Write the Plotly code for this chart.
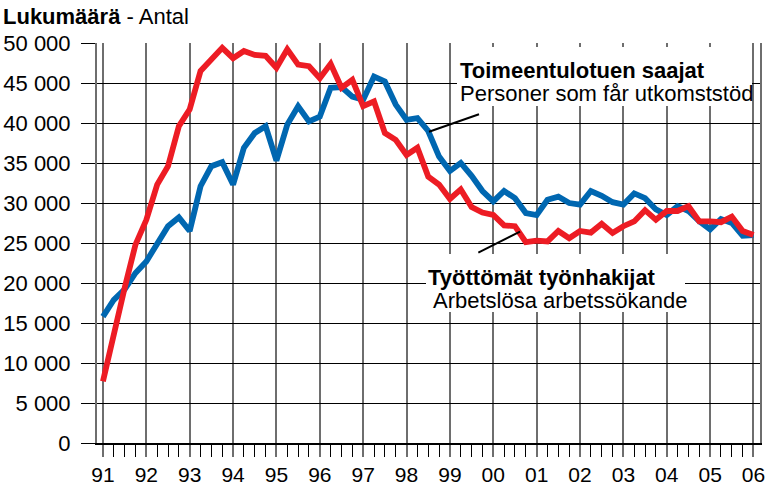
import plotly.graph_objects as go

# Quarterly data, 1991Q1 .. 2006Q1 (quarter index 0..60)
quarter_index = list(range(61))
year_labels = ['91', '92', '93', '94', '95', '96', '97', '98', '99',
               '00', '01', '02', '03', '04', '05', '06']
year_tick_positions = [4 * i for i in range(len(year_labels))]

unemployed = [  # Työttömät työnhakijat / Arbetslösa arbetssökande
    7700, 13750, 19400, 24800, 27900, 32300, 34600, 39600,
    41700, 46500, 47900, 49400, 48100, 49000, 48500, 48400,
    46900, 49200, 47300, 47100, 45600, 47400, 44400, 45400,
    42100, 42700, 38750, 37900, 36000, 36900, 33300, 32300,
    30500, 31700, 29500, 28800, 28500, 27200, 27100, 25100,
    25300, 25200, 26500, 25600, 26500, 26300, 27400, 26250,
    27100, 27700, 29100, 27900, 29000, 29000, 29600, 27700,
    27700, 27600, 28300, 26500, 26000]

social_assistance = [  # Toimeentulotuen saajat / Personer som får utkomststöd
    15800, 17900, 19200, 21250, 22700, 24800, 27100, 28200,
    26500, 32100, 34600, 35100, 32300, 36900, 38750, 39600,
    35300, 39800, 42100, 40200, 40800, 44400, 44500, 43300,
    42900, 45800, 45200, 42300, 40400, 40600, 39000, 35800,
    34000, 35000, 33400, 31500, 30200, 31500, 30600, 28750,
    28500, 30400, 30800, 30000, 29800, 31500, 30900, 30100,
    29800, 31200, 30600, 29200, 28500, 29600, 29000, 27700,
    26700, 28000, 27500, 25900, 26000]

y_tick_values = [0, 5000, 10000, 15000, 20000, 25000, 30000, 35000, 40000, 45000, 50000]
y_tick_labels = ['0', '5 000', '10 000', '15 000', '20 000', '25 000',
                 '30 000', '35 000', '40 000', '45 000', '50 000']

W, H = 767, 487
L, R, T, B = 97, 7, 43, 44
PW, PH = W - L - R, H - T - B


def px(xp):
    return (xp - L) / PW


def py(yp):
    return (H - B - yp) / PH


FONT = 'Arial, Liberation Sans, sans-serif'
FS = 22
RED = '#ED1C24'
BLUE = '#0067B1'
GRAY = '#6e6e6e'

fig = go.Figure()
fig.add_trace(go.Scatter(x=quarter_index, y=social_assistance, mode='lines',
                         line=dict(color=BLUE, width=5.8), showlegend=False))
fig.add_trace(go.Scatter(x=quarter_index, y=unemployed, mode='lines',
                         line=dict(color=RED, width=5.8), showlegend=False))

shapes = [
    # pointer lines
    dict(type='line', xref='paper', yref='paper', x0=px(429), y0=py(131.7), x1=px(479), y1=py(114.3),
         line=dict(color='black', width=2), layer='above'),
    dict(type='line', xref='paper', yref='paper', x0=px(478.3), y0=py(252.7), x1=px(520), y1=py(231.7),
         line=dict(color='black', width=2), layer='above'),
]


def box(x0, x1, y0, y1):
    return dict(text=' ', x=px((x0 + x1) / 2), y=py((y0 + y1) / 2), xref='paper', yref='paper',
                xanchor='center', yanchor='middle', showarrow=False,
                width=x1 - x0, height=y1 - y0, bgcolor='white', borderpad=0, borderwidth=0)


def label(text, x, y):
    return dict(text=text, x=px(x), y=py(y), xref='paper', yref='paper',
                xanchor='left', yanchor='middle', showarrow=False,
                font=dict(size=FS, color='black', family=FONT))


annotations = [
    box(457, 752, 47, 106),
    box(426, 685, 254, 312),
    label('<b>Lukumäärä</b> - Antal', 1, 16),
    label('<b>Toimeentulotuen saajat</b>', 458, 71),
    label('Personer som får utkomststöd', 458, 94),
    label('<b>Työttömät työnhakijat</b>', 426, 277),
    label('Arbetslösa arbetssökande', 431, 300),
]

fig.update_layout(
    width=W, height=H,
    margin=dict(l=L, r=R, t=T, b=B, pad=0),
    paper_bgcolor='white', plot_bgcolor='white',
    font=dict(family=FONT, size=FS, color='black'),
    shapes=shapes, annotations=annotations,
    xaxis=dict(
        range=[-0.55, 60.6], tickmode='array', tickvals=year_tick_positions, ticktext=year_labels,
        showgrid=True, gridcolor=GRAY, gridwidth=1.5,
        ticks='outside', ticklen=12, tickcolor=GRAY, tickwidth=1.5,
        minor=dict(tickmode='linear', tick0=0, dtick=1, ticks='outside', ticklen=12,
                   tickcolor='black', tickwidth=1, showgrid=False),
        showline=True, linecolor='black', linewidth=2, zeroline=False,
        tickfont=dict(size=21, color='black', family=FONT),
        ticklabelstandoff=0, automargin=False,
    ),
    yaxis=dict(
        range=[0, 50000], tickmode='array', tickvals=y_tick_values, ticktext=y_tick_labels,
        showgrid=True, gridcolor='black', gridwidth=1,
        ticks='outside', ticklen=14, tickcolor='black', tickwidth=1,
        showline=True, linecolor=GRAY, linewidth=2, mirror=True, zeroline=False,
        tickfont=dict(size=FS, color='black', family=FONT),
        ticklabelstandoff=6, automargin=False,
    ),
)

fig.write_html('out.html', config={'displayModeBar': False},
               post_script="document.body.style.margin='0';document.body.style.padding='0';")
